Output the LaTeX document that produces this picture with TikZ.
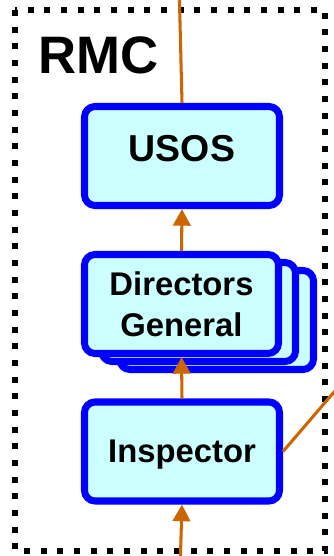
\documentclass[tikz,border=0pt]{standalone}
\usepackage{fontspec}
\setmainfont{Liberation Sans}
\usetikzlibrary{arrows.meta,positioning}
\definecolor{BoxBlue}{HTML}{0000FF}
\definecolor{BoxFill}{HTML}{CCFFFF}
\definecolor{LinkOrange}{HTML}{CC6600}

\begin{document}
\begin{tikzpicture}[x=0.3mm,y=0.3mm,
    office/.style={draw=BoxBlue,fill=BoxFill,line width=6pt,rounded corners=9pt,
      minimum width=58.5mm,minimum height=29.7mm,align=center,
      font=\fontsize{28}{32}\selectfont\bfseries,inner sep=0pt},
    link/.style={draw=LinkOrange,line width=2.6pt},
    uplink/.style={link,-{Triangle[length=5mm,width=5.2mm]}}]
  \useasboundingbox (0,0) rectangle (334,556);
  % dotted frame of the committee
  \draw[line width=1.8mm,dash pattern=on 1.8mm off 3.2mm] (15,546) rectangle (325,5);
  \node[anchor=base west,inner sep=0pt,font=\fontsize{45}{50}\selectfont\bfseries]
        (rmc) at (38,482) {RMC};
  % chain of offices
  \node[office] (usos) at (182,400)
        {\raisebox{6pt}[\height][\depth]{\fontsize{32}{36}\selectfont USOS}};
  \node[office,minimum width=58.2mm] (dg3) at (216.5,236) {};
  \node[office,minimum width=58.2mm] (dg2) at (198.5,244) {};
  \node[office,minimum width=58.2mm] (dg) at (181.5,252) {Directors\\[3pt]General};
  \node[office] (insp) at (182,104.5) {\raisebox{-3pt}[\height][\depth]{Inspector}};
  \coordinate (abovetop) at (179,575);
  \coordinate (belowbot) at (180,-15);
  \coordinate (sideout) at (350,182.5);
  \draw[link] (abovetop) -- (usos.north);
  \draw[uplink] (dg.north) -- (usos.south);
  \draw[uplink] (insp.north) -- (dg.south);
  \draw[uplink] (belowbot) -- (insp.south);
  \draw[link] (insp.east) -- (sideout);
\end{tikzpicture}
\end{document}
